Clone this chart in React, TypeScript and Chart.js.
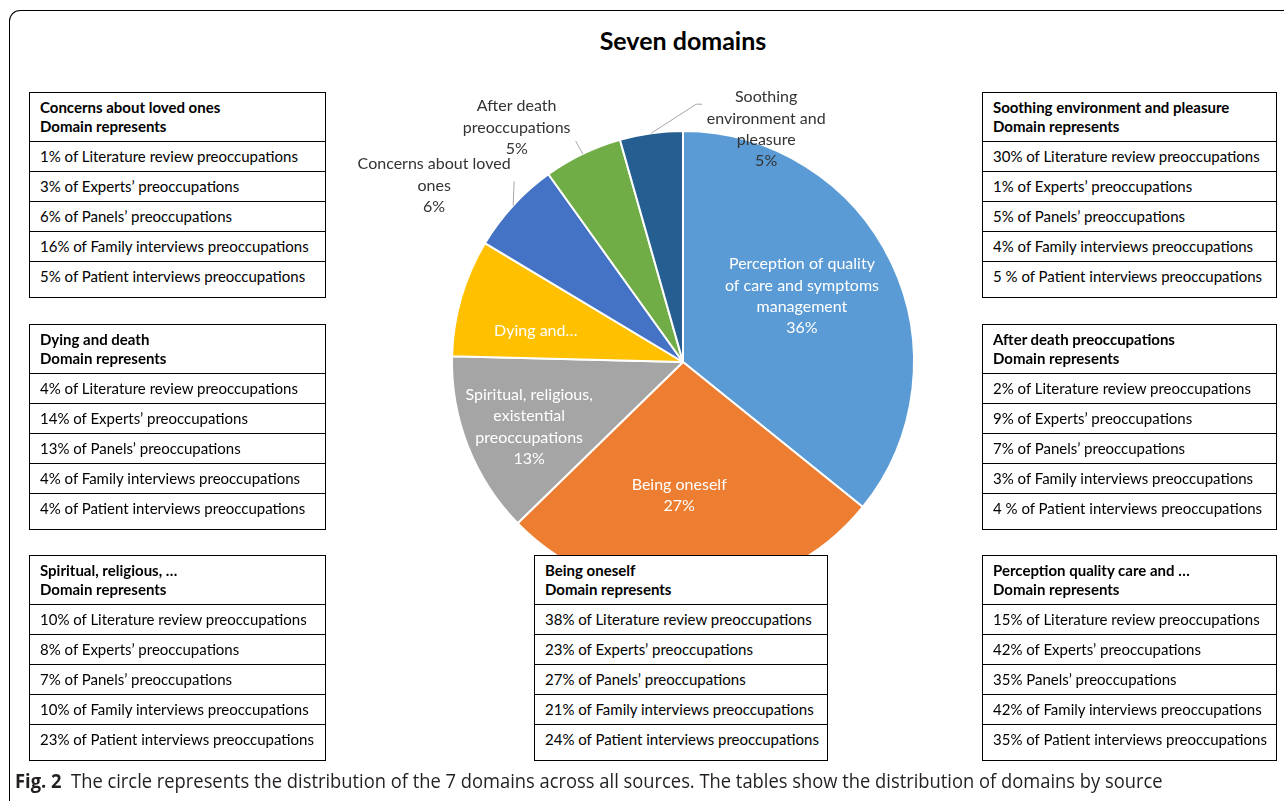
import React, { useEffect, useLayoutEffect, useRef } from "react";
import { Chart, registerables } from "chart.js";

Chart.register(...registerables);

// ---------- data ----------
const domains = [
  "Perception of quality of care and symptoms management",
  "Being oneself",
  "Spiritual, religious, existential preoccupations",
  "Dying and death",
  "Concerns about loved ones",
  "After death preoccupations",
  "Soothing environment and pleasure",
];
const shares = [35.8, 26.9, 12.7, 8.2, 6.5, 5.5, 4.4];
const shareLabels = ["36%", "27%", "13%", "", "6%", "5%", "5%"];
const sliceLabelLines = [
  ["Perception of quality", "of care and symptoms", "management"],
  ["Being oneself"],
  ["Spiritual, religious,", "existential", "preoccupations"],
  ["Dying and…"],
  ["Concerns about loved", "ones"],
  ["After death", "preoccupations"],
  ["Soothing", "environment and", "pleasure"],
];
const sliceColors = ["#5B9BD5", "#ED7D31", "#A5A5A5", "#FFC000", "#4472C4", "#70AD47", "#255E91"];

const concernsRows = [
  "1% of Literature review preoccupations",
  "3% of Experts’ preoccupations",
  "6% of Panels’ preoccupations",
  "16% of Family interviews preoccupations",
  "5% of Patient interviews preoccupations",
];
const dyingRows = [
  "4% of Literature review preoccupations",
  "14% of Experts’ preoccupations",
  "13% of Panels’ preoccupations",
  "4% of Family interviews preoccupations",
  "4% of Patient interviews preoccupations",
];
const spiritualRows = [
  "10% of Literature review preoccupations",
  "8% of Experts’ preoccupations",
  "7% of Panels’ preoccupations",
  "10% of Family interviews preoccupations",
  "23% of Patient interviews preoccupations",
];
const beingRows = [
  "38% of Literature review preoccupations",
  "23% of Experts’ preoccupations",
  "27% of Panels’ preoccupations",
  "21% of Family interviews preoccupations",
  "24% of Patient interviews preoccupations",
];
const soothingRows = [
  "30% of Literature review preoccupations",
  "1% of Experts’ preoccupations",
  "5% of Panels’ preoccupations",
  "4% of Family interviews preoccupations",
  "5 % of Patient interviews preoccupations",
];
const afterRows = [
  "2% of Literature review preoccupations",
  "9% of Experts’ preoccupations",
  "7% of Panels’ preoccupations",
  "3% of Family interviews preoccupations",
  "4 % of Patient interviews preoccupations",
];
const perceptionRows = [
  "15% of Literature review preoccupations",
  "42% of Experts’ preoccupations",
  "35% Panels’ preoccupations",
  "42% of Family interviews preoccupations",
  "35% of Patient interviews preoccupations",
];

const FONT = "Lato, 'Open Sans', sans-serif";

// label placement (inside: fraction of radius + nudge; outside: offsets from slice edge)
const insideFactor = [0.59, 0.57, 0.72, 0.65];
const insideNudge = [[-4, -7], [-10, 1.5], [1, 4], [-3, 11]];
const outsideText = [null, null, null, null, [-79, -20], [-66, -26.5], [115, -4]];
const outsideLeader: (number[][] | null)[] = [
  null, null, null, null,
  [[1, -24]],
  [[-7, -13]],
  [[45, -29], [51, -29]],
];

const sliceLabelPlugin = {
  id: "sliceLabels",
  afterDatasetsDraw(chart: any) {
    const ctx = chart.ctx as CanvasRenderingContext2D;
    const meta = chart.getDatasetMeta(0);
    const lineH = 21.3;
    ctx.save();
    ctx.font = `16px ${FONT}`;
    ctx.textAlign = "center";
    ctx.textBaseline = "middle";
    meta.data.forEach((arc: any, i: number) => {
      const p = arc.getProps(["x", "y", "startAngle", "endAngle", "outerRadius"], true);
      const mid = (p.startAngle + p.endAngle) / 2;
      const lines = [...sliceLabelLines[i]];
      if (shareLabels[i]) lines.push(shareLabels[i]);
      let cx: number, cy: number;
      if (i < insideFactor.length) {
        const f = insideFactor[i];
        cx = p.x + Math.cos(mid) * p.outerRadius * f + insideNudge[i][0];
        cy = p.y + Math.sin(mid) * p.outerRadius * f + insideNudge[i][1];
        ctx.fillStyle = "#ffffff";
      } else {
        const ex = p.x + Math.cos(mid) * p.outerRadius;
        const ey = p.y + Math.sin(mid) * p.outerRadius;
        const off = outsideText[i] as number[];
        cx = ex + off[0];
        cy = ey + off[1];
        ctx.strokeStyle = "#A6A6A6";
        ctx.lineWidth = 1;
        ctx.beginPath();
        ctx.moveTo(ex, ey);
        (outsideLeader[i] || []).forEach((pt) => ctx.lineTo(ex + pt[0], ey + pt[1]));
        ctx.stroke();
        ctx.fillStyle = "#333333";
      }
      lines.forEach((ln, k) => {
        ctx.fillText(ln, cx, cy + (k - (lines.length - 1) / 2) * lineH);
      });
    });
    ctx.restore();
  },
};

function DomainTable(props: { title: string; rows: string[]; left: number; top: number; width: number }) {
  const { title, rows, left, top, width } = props;
  return (
    <div
      style={{
        position: "absolute",
        left,
        top,
        width,
        boxSizing: "border-box",
        border: "1px solid #000",
        background: "#fff",
        fontFamily: FONT,
        fontSize: 15,
        color: "#000",
      }}
    >
      <div
        style={{
          height: 49,
          boxSizing: "border-box",
          borderBottom: "1px solid #000",
          padding: "5px 0 0 10px",
          fontWeight: 700,
          lineHeight: "19px",
          whiteSpace: "nowrap",
        }}
      >
        <div>{title}</div>
        <div>Domain represents</div>
      </div>
      {rows.map((r, k) => (
        <div
          key={k}
          style={{
            height: k === rows.length - 1 ? 35 : 30,
            boxSizing: "border-box",
            borderBottom: k === rows.length - 1 ? "none" : "1px solid #000",
            padding: "0 0 0 10px",
            lineHeight: "29px",
            whiteSpace: "nowrap",
          }}
        >
          {r}
        </div>
      ))}
    </div>
  );
}

export default function App() {
  const canvasRef = useRef<HTMLCanvasElement | null>(null);
  const capRef = useRef<HTMLDivElement | null>(null);

  useEffect(() => {
    const canvas = canvasRef.current;
    if (!canvas) return;
    const chart = new Chart(canvas, {
      type: "pie",
      data: {
        labels: domains,
        datasets: [
          {
            data: shares,
            backgroundColor: sliceColors,
            borderColor: "#ffffff",
            borderWidth: 2,
          },
        ],
      },
      options: {
        responsive: false,
        animation: false,
        devicePixelRatio: 1,
        layout: { padding: { left: 451, right: 369, top: 130, bottom: 207 } },
        plugins: { legend: { display: false }, tooltip: { enabled: false } },
      },
      plugins: [sliceLabelPlugin],
    });
    return () => chart.destroy();
  }, []);

  useLayoutEffect(() => {
    const el = capRef.current;
    if (!el) return;
    const w = el.scrollWidth;
    const target = 1148;
    if (w > 0) el.style.transform = `scaleX(${target / w})`;
  }, []);

  return (
    <div
      style={{
        position: "absolute",
        left: 0,
        top: 0,
        width: 1284,
        height: 801,
        overflow: "hidden",
        background: "#fff",
      }}
    >
      <div
        style={{
          position: "absolute",
          left: 9,
          top: 10,
          width: 1400,
          height: 900,
          borderTop: "1px solid #000",
          borderLeft: "1px solid #000",
          borderTopLeftRadius: 11,
        }}
      />
      <div
        style={{
          position: "absolute",
          left: 483,
          top: 24,
          width: 400,
          textAlign: "center",
          fontFamily: FONT,
          fontWeight: 700,
          fontSize: 25,
          lineHeight: "32px",
          color: "#000",
        }}
      >
        Seven domains
      </div>
      <canvas
        ref={canvasRef}
        width={1284}
        height={801}
        style={{ position: "absolute", left: 0, top: 0, width: 1284, height: 801 }}
      />
      <DomainTable title="Concerns about loved ones" rows={concernsRows} left={29} top={92} width={297} />
      <DomainTable title="Dying and death" rows={dyingRows} left={29} top={324} width={297} />
      <DomainTable title="Spiritual, religious, …" rows={spiritualRows} left={29} top={555} width={297} />
      <DomainTable title="Being oneself" rows={beingRows} left={534} top={555} width={294} />
      <DomainTable title="Soothing environment and pleasure" rows={soothingRows} left={982} top={92} width={295} />
      <DomainTable title="After death preoccupations" rows={afterRows} left={982} top={324} width={295} />
      <DomainTable title="Perception quality care and …" rows={perceptionRows} left={982} top={555} width={295} />
      <div
        ref={capRef}
        style={{
          position: "absolute",
          left: 15,
          top: 767,
          whiteSpace: "nowrap",
          transformOrigin: "0 0",
          fontFamily: "'Open Sans', sans-serif",
          fontSize: 20,
          lineHeight: "27px",
          color: "#231F20",
        }}
      >
        <span style={{ fontWeight: 700 }}>Fig. 2</span>
        <span style={{ whiteSpace: "pre" }}>{"  The circle represents the distribution of the 7 domains across all sources. The tables show the distribution of domains by source"}</span>
      </div>
    </div>
  );
}
